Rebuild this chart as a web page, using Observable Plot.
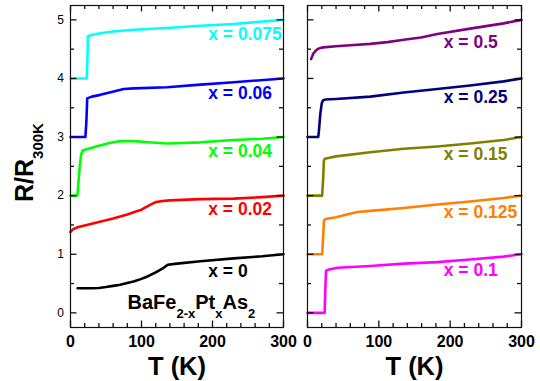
<!DOCTYPE html>
<html><head><meta charset="utf-8">
<script src="https://cdn.jsdelivr.net/npm/d3@7"></script>
<script src="https://cdn.jsdelivr.net/npm/@observablehq/plot@0.6"></script>
<style>
body{margin:0;background:#fff;}
#chart{position:relative;width:540px;height:381px;font-family:"Liberation Sans",Arial,sans-serif;}
#chart svg{position:absolute;top:0;}
</style></head><body><div id="chart"></div>
<script>
// ---------- data: [T (K), R/R300K] ----------
const x0     = [[10,0.42],[20,0.42],[30,0.42],[40,0.425],[50,0.44],[60,0.46],[70,0.48],[80,0.51],[90,0.54],[100,0.58],[110,0.63],[120,0.69],[130,0.76],[137,0.82],[150,0.84],[183,0.88],[230,0.93],[270,0.965],[300,1.0]];
const x002   = [[0,1.38],[3,1.42],[6,1.44],[10,1.46],[20,1.49],[40,1.55],[60,1.61],[80,1.68],[90,1.72],[100,1.76],[110,1.83],[120,1.89],[130,1.91],[140,1.92],[183,1.94],[230,1.95],[270,1.975],[300,2.0]];
const x004   = [[0,2.0],[9,2.0],[10,2.03],[11,2.2],[13,2.5],[15,2.7],[17,2.77],[25,2.8],[40,2.85],[55,2.9],[70,2.93],[90,2.93],[110,2.91],[136,2.89],[183,2.91],[230,2.95],[270,2.97],[300,3.0]];
const x006   = [[0,3.0],[21,3.0],[22.5,3.3],[23.5,3.66],[30,3.69],[42,3.72],[58,3.77],[75,3.82],[89,3.83],[136,3.85],[183,3.895],[230,3.935],[300,4.0]];
const x0075  = [[0,4.0],[23,4.0],[24,4.4],[24.5,4.72],[30,4.74],[42,4.77],[60,4.8],[89,4.83],[136,4.86],[183,4.9],[230,4.93],[300,5.0]];

const x01    = [[0,0.0],[24,0.0],[25,0.4],[26,0.72],[30,0.74],[42,0.77],[88,0.8],[135,0.84],[182,0.865],[228,0.91],[275,0.96],[300,1.0]];
const x0125  = [[0,1.0],[20.5,1.0],[22,1.3],[23,1.57],[25,1.6],[40,1.63],[55,1.68],[70,1.72],[88,1.74],[135,1.79],[182,1.85],[228,1.9],[275,1.96],[300,2.0]];
const x015   = [[0,2.0],[20.5,2.0],[22,2.3],[23,2.6],[24.5,2.63],[40,2.67],[88,2.74],[135,2.8],[182,2.84],[228,2.89],[275,2.95],[300,3.0]];
const x025   = [[0,3.0],[15,3.0],[16,3.1],[18,3.4],[20,3.58],[22,3.63],[25,3.64],[40,3.65],[88,3.69],[135,3.76],[182,3.82],[228,3.88],[275,3.95],[300,4.0]];
const x05    = [[5,4.33],[8,4.42],[11,4.47],[14,4.5],[18,4.52],[22,4.53],[40,4.55],[65,4.57],[88,4.59],[112,4.62],[135,4.66],[159,4.7],[182,4.76],[228,4.85],[275,4.94],[300,5.0]];

const leftNames   = ["x = 0","x = 0.02","x = 0.04","x = 0.06","x = 0.075"];
const leftColors  = ["#000000","#ff0000","#00ff00","#0000ff","#00ffff"];
const leftLabelR  = [0.71,1.77,2.76,3.745,4.75];
const leftLabelT  = 194;

const rightNames  = ["x = 0.1","x = 0.125","x = 0.15","x = 0.25","x = 0.5"];
const rightColors = ["#ff00ff","#ff8000","#808000","#000080","#800080"];
const rightLabelR = [0.717,1.71,2.70,3.67,4.61];
const rightLabelT = 191;

const majorT = [0,100,200,300];
const minorT = [20,40,60,80,120,140,160,180,220,240,260,280];
const majorR = [0,1,2,3,4,5];
const minorR = [0.5,1.5,2.5,3.5,4.5];
const xTitle = "T (K)";
const formulaAt = [171, 0.05];

// ---------- drawing ----------
const FONT = "'Liberation Sans', Arial, sans-serif";
const none = () => "";
const TK = 1.3;           // tick stroke width
const MAJ = 6.5, MIN = 4; // tick lengths (drawn inward)
const HEIGHT = 381, MT = 5, MB = 54;
function panel(seriesList, names, colors, labelT, labelR, opt) {
  const H = HEIGHT - MT - MB, W = opt.width - opt.ml - opt.mr;
  const data = seriesList.flatMap((s, i) => s.map(([T, R]) => ({T, R, name: names[i]})));
  const labels = names.map((n, i) => ({n, T: labelT, R: labelR[i]}));
  const tk = {stroke: "#111", strokeWidth: TK};
  const marks = [
    Plot.line(data, {x: "T", y: "R", z: "name", stroke: "name", strokeWidth: 2.6}),
    Plot.text(labels, {x: "T", y: "R", text: "n", fill: "n", textAnchor: "start", fontSize: 17.5, fontWeight: "bold"}),
    // inward ticks on all four sides
    Plot.tickX(majorT, {x: d => d, insetTop: H - MAJ, ...tk}),
    Plot.tickX(minorT, {x: d => d, insetTop: H - MIN, ...tk}),
    Plot.tickX(majorT, {x: d => d, insetBottom: H - MAJ, ...tk}),
    Plot.tickX(minorT, {x: d => d, insetBottom: H - MIN, ...tk}),
    Plot.tickY(majorR, {y: d => d, insetRight: W - MAJ, ...tk}),
    Plot.tickY(minorR, {y: d => d, insetRight: W - MIN, ...tk}),
    Plot.tickY(majorR, {y: d => d, insetLeft: W - MAJ, ...tk}),
    Plot.tickY(minorR, {y: d => d, insetLeft: W - MIN, ...tk}),
    Plot.frame({stroke: "#111", strokeWidth: 1.2}),
    Plot.axisX({anchor: "bottom", ticks: majorT, tickSize: 0, tickPadding: 8, fontSize: 16, fontWeight: "bold", label: null, tickFormat: d => String(d)}),
    Plot.axisY({anchor: "left", ticks: majorR, tickSize: 0, tickPadding: 6.5, fontSize: 12, label: null, tickFormat: opt.yLabels ? (d => String(d)) : none}),
    Plot.text([xTitle], {frameAnchor: "bottom", lineAnchor: "bottom", dy: 47.5, fontSize: 25.5, fontWeight: "bold"})
  ];
  return Plot.plot({
    width: opt.width, height: HEIGHT,
    marginTop: MT, marginBottom: MB, marginLeft: opt.ml, marginRight: opt.mr,
    x: {domain: [0, 300]},
    y: {domain: [-0.25, 5.245]},
    color: {domain: names, range: colors},
    style: {fontFamily: FONT, background: "transparent", overflow: "visible", color: "#000"},
    marks
  });
}

const chart = document.getElementById("chart");
const left = panel([x0, x002, x004, x006, x0075], leftNames, leftColors, leftLabelT, leftLabelR, {width: 295, ml: 70, mr: 12, yLabels: true});
const right = panel([x01, x0125, x015, x025, x05], rightNames, rightColors, rightLabelT, rightLabelR, {width: 245, ml: 12, mr: 19, yLabels: false});
left.style.left = "0px";
right.style.left = "295px";
chart.appendChild(left);
chart.appendChild(right);

// y-axis title with subscript
const sx = left.scale("x"), sy = left.scale("y");
const svg = d3.select(left);
const yt = svg.append("text")
  .attr("transform", `translate(33,${(sy.apply(5.245) + sy.apply(-0.25)) / 2 - 3.5}) rotate(-90)`)
  .attr("text-anchor", "middle").attr("font-family", FONT).attr("font-weight", "bold").attr("fill", "#000");
yt.append("tspan").attr("font-size", 25).text("R/R");
yt.append("tspan").attr("font-size", 15).attr("dy", 10).text("300K");

// compound formula with subscripts
const ft = svg.append("text")
  .attr("x", sx.apply(formulaAt[0])).attr("y", sy.apply(formulaAt[1]))
  .attr("text-anchor", "middle").attr("font-family", FONT).attr("font-weight", "bold").attr("fill", "#000");
[["BaFe",20,0],["2-x",13,9],["Pt",20,-9],["x",13,9],["As",20,-9],["2",13,9]].forEach(([t, fs, dy]) => {
  ft.append("tspan").attr("font-size", fs).attr("dy", dy).text(t);
});
</script></body></html>
